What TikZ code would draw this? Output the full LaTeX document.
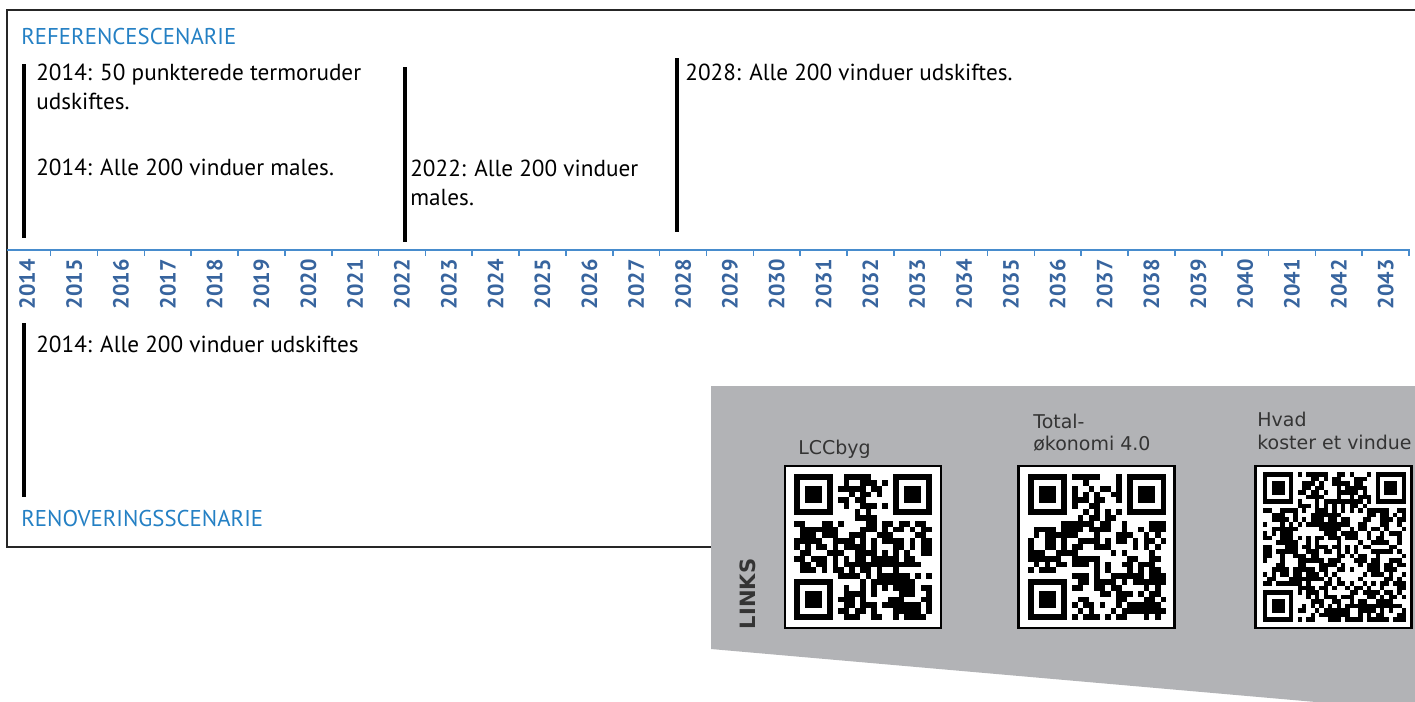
\documentclass[tikz,border=0pt]{standalone}
\usepackage{fontspec}
\setmainfont{PT Sans}
\newfontfamily\linkfont{DejaVu Sans}
\usetikzlibrary{positioning}

\definecolor{scenblue}{RGB}{36,128,196}
\definecolor{axisblue}{RGB}{72,140,205}
\definecolor{yearblue}{RGB}{55,100,158}
\definecolor{panelgrey}{RGB}{178,179,182}
\definecolor{linkink}{RGB}{52,52,52}

\tikzset{
  frame/.style={draw=black!85, line width=1.1pt},
  axisline/.style={draw=axisblue, line width=0.9pt},
  eventline/.style={draw=black, line width=2pt},
  scenario/.style={anchor=base west, inner sep=0pt, text=scenblue, font=\fontsize{13}{15}\selectfont},
  event/.style={anchor=north west, inner sep=0pt, align=left, font=\fontsize{13.2}{16.4}\selectfont},
  yearlabel/.style={rotate=90, anchor=east, inner sep=0pt, text=yearblue, font=\bfseries\fontsize{12.5}{14}\selectfont},
  qrbox/.style={draw=black, line width=1.3pt, fill=white, minimum width=3.12cm, minimum height=3.24cm, inner sep=0pt},
  qrlabel/.style={inner sep=0pt, align=left, text=linkink, font=\linkfont\fontsize{10.8}{12.8}\selectfont},
}

% random modules plus the three finder squares
\newcommand{\qrfill}[2]{%
  \pgfmathsetseed{#2}
  \pgfmathtruncatemacro{\qrlast}{#1-1}
  \pgfmathtruncatemacro{\qredge}{#1-8}
  \foreach \i in {0,...,\qrlast}{
    \foreach \j in {0,...,\qrlast}{
      \pgfmathtruncatemacro{\qrbit}{(rnd<0.56) && !((\i<8 && \j<8) || (\i>\qredge-1 && \j<8) || (\i<8 && \j>\qredge-1))}
      \ifnum\qrbit=1 \fill (\i,\j) rectangle ++(1,1);\fi
    }
  }
  \pgfmathtruncatemacro{\qrfind}{#1-7}
  \foreach \a/\b in {0/0,\qrfind/0,0/\qrfind}{
    \fill (\a,\b) rectangle ++(7,7);
    \fill[white] (\a+1,\b+1) rectangle ++(5,5);
    \fill (\a+2,\b+2) rectangle ++(3,3);
  }
}

\begin{document}
\begin{tikzpicture}[x=0.02cm, y=-0.02cm]
\useasboundingbox (0,0) rectangle (1415,701);

% Frame
\draw[frame] (7,10) rectangle (1430,547);

% Scenario titles
\node[scenario] (refscen) at (21,44) {REFERENCESCENARIE};
\node[scenario] (renscen) at (21,526) {RENOVERINGSSCENARIE};

% Time axis
\draw[axisline] (7,250) -- (1410,250);
\foreach \k in {0,...,29}
  \draw[axisline] (50.7+46.84*\k,250) -- ++(0,6);
\foreach \yr [count=\k from 0] in {2014,...,2043}
  \node[yearlabel] (y\yr) at (27.3+46.84*\k,259) {\yr};

% Event markers
\coordinate (ref14top) at (24,64);
\coordinate (ref14bot) at (24,238);
\coordinate (ref22top) at (405,67);
\coordinate (ref22bot) at (405,242);
\coordinate (ref28top) at (677,58);
\coordinate (ref28bot) at (677,232);
\coordinate (ren14top) at (24,323);
\coordinate (ren14bot) at (24,497);
\draw[eventline] (ref14top) -- (ref14bot);
\draw[eventline] (ref22top) -- (ref22bot);
\draw[eventline] (ref28top) -- (ref28bot);
\draw[eventline] (ren14top) -- (ren14bot);

% Event texts
\node[event] (ev14a) at (36,64) {2014: 50 punkterede termoruder\\udskiftes.};
\node[event] (ev14b) at (36,159) {2014: Alle 200 vinduer males.};
\node[event] (ev22) at (410,160) {2022: Alle 200 vinduer\\males.};
\node[event] (ev28) at (685,64) {2028: Alle 200 vinduer udskiftes.};
\node[event] (ren14) at (36,336) {2014: Alle 200 vinduer udskiftes};

% Links panel
\fill[panelgrey] (711,386) -- (1430,386) -- (1430,712) -- (711,649) -- cycle;
\node[rotate=90, inner sep=0pt, text=linkink, font=\linkfont\bfseries\fontsize{12}{14}\selectfont] (links) at (748,594) {LINKS};

\node[qrbox] (qrA) at (863,547) {};
\node[qrbox] (qrB) at (1096.5,547) {};
\node[qrbox] (qrC) at (1333.5,547) {};

\node[qrlabel, anchor=base west] (lblA) at (798,454) {LCCbyg};
\node[qrlabel, anchor=south west] (lblB) at (1033,452) {Total-\\økonomi 4.0};
\node[qrlabel, anchor=south west] (lblC) at (1257,450) {Hvad\\koster et vindue};

\begin{scope}[shift={(794,474)}, xscale=138/25, yscale=146/25]
  \qrfill{25}{11}
\end{scope}
\begin{scope}[shift={(1028,474)}, xscale=138/25, yscale=146/25]
  \qrfill{25}{29}
\end{scope}
\begin{scope}[shift={(1263,472)}, xscale=143/33, yscale=150/33]
  \qrfill{33}{47}
\end{scope}

\end{tikzpicture}
\end{document}
